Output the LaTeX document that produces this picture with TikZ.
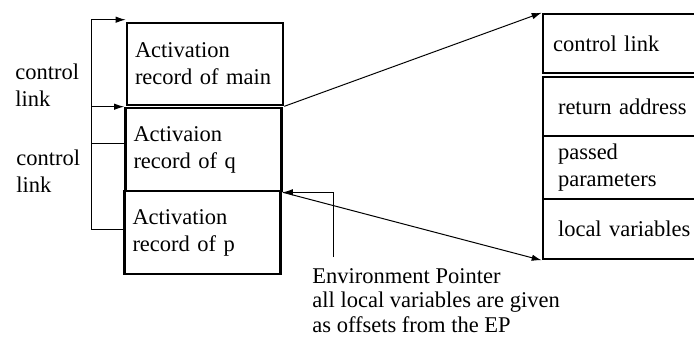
\documentclass[tikz,border=0pt]{standalone}
\usepackage{fontspec}
\setmainfont{Liberation Serif}
\usetikzlibrary{arrows.meta}
\tikzset{>={Latex[length=5pt,width=3.2pt]}}
\tikzset{
    txt/.style={font=\fontsize{11.25}{13.5}\selectfont},
    record/.style={txt, draw, line width=1.3pt, align=left, inner xsep=4pt,
        inner ysep=0pt, text width=70pt, minimum width=78pt},
    field/.style={txt, draw, line width=1.3pt, align=left, inner xsep=7.5pt,
        inner ysep=0pt, text width=80pt, minimum width=95pt},
    note/.style={txt, align=left, inner sep=0pt},
    link/.style={->, line width=0.5pt}
}

\begin{document}
\begin{tikzpicture}[x=0.5pt, y=-0.5pt]
    \clip (0, 0) rectangle (694, 344);
    % stack of activation records
    \node[record, minimum height=41pt] (main) at (205, 64) {Activation\\record of main};
    \node[record, minimum height=41.5pt] (q) at (203.5, 149.5) {Activaion\\record of q};
    \node[record, minimum height=41.5pt] (p) at (202.5, 232.5) {Activation\\record of p};
    % layout of one record (right edge runs off the page)
    \node[field, inner xsep=5pt, text width=85pt, minimum height=29.5pt] (ctl) at (638, 43.5) {control link};
    \node[field, minimum height=29.5pt] (ret) at (638, 106.5) {return address};
    \node[field, minimum height=31.5pt] (par) at (638, 167.5) {passed\\parameters};
    \node[field, minimum height=30pt] (loc) at (638, 229) {local variables};
    \node[note, anchor=west] (cl1) at (15, 85) {control\\link};
    \node[note, anchor=west] (cl2) at (16, 171.5) {control\\link};
    \node[note, anchor=north west, font=\fontsize{11.25}{12.25}\selectfont] (ep) at (312, 268)
        {Environment Pointer\\all local variables are given\\as offsets from the EP};
    \draw[link] ([yshift=3pt]q.west) -- ++(-33, 0) |- ([yshift=1pt]main.north west);
    \draw[link] ([yshift=1.5pt]p.west) -- ++(-32, 0) |- (q.north west);
    \draw[link] (main.south east) -- (ctl.north west);
    \draw[link] (q.south east) -- (loc.south west);
    \draw[link] ([shift={(10.5pt, 5.5pt)}]ep.north west) |- (q.south east);
\end{tikzpicture}
\end{document}
